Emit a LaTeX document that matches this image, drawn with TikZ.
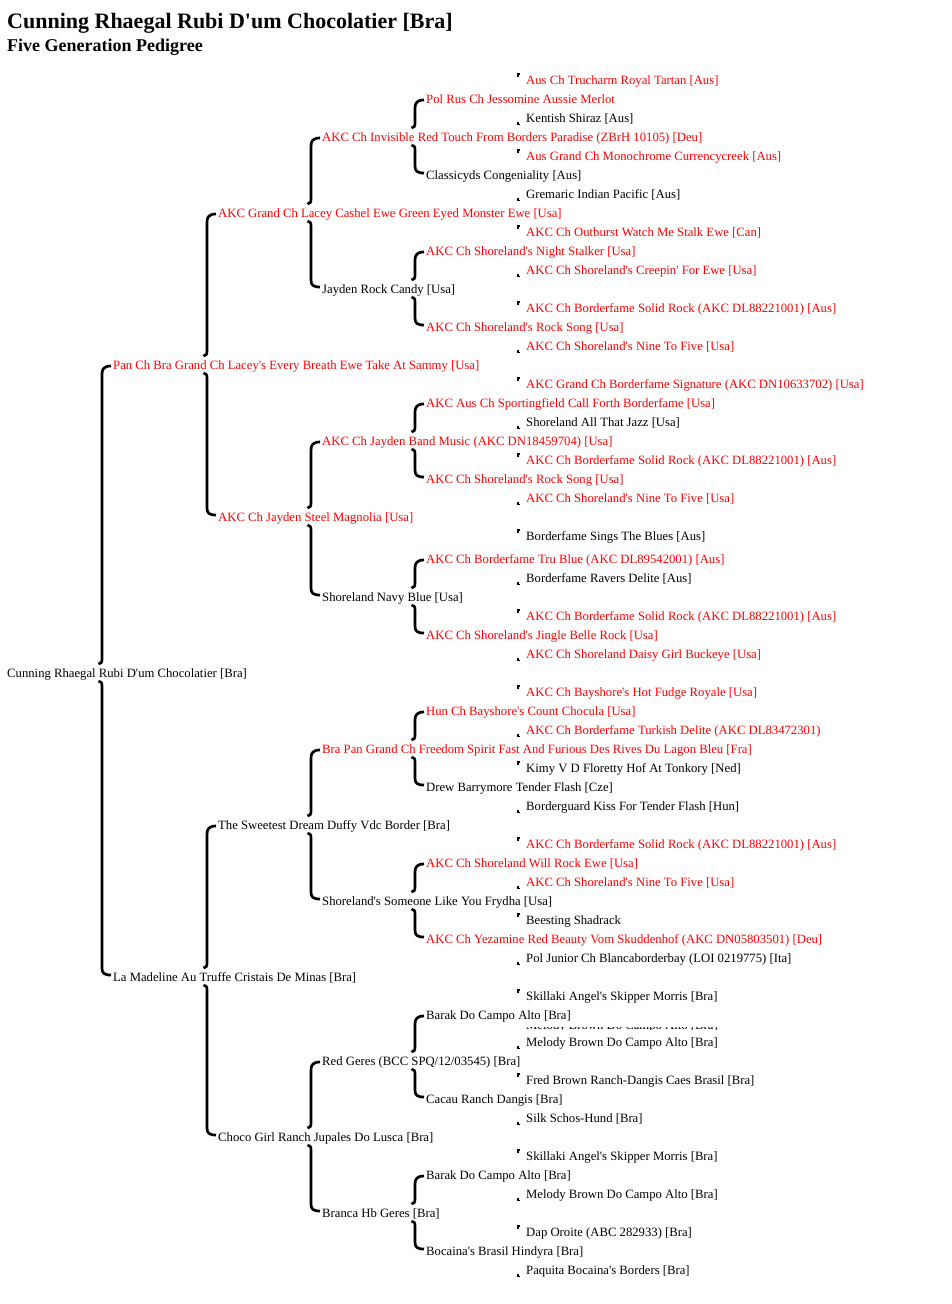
\documentclass[tikz,border=0pt]{standalone}
\usepackage{fontspec}
\setmainfont{Liberation Serif}
\usetikzlibrary{calc}
\newcommand\ap{\textquotesingle}
\tikzset{
  lbl/.style={anchor=base west,inner sep=0pt,font=\fontsize{12.7}{15}\selectfont},
  bracel/.style={draw=black,line width=2.7pt},
  tickl/.style={draw=black,line width=1.5pt},
}
\newcommand\nm[5]{\node[lbl,text=#4] (#1) at (#2pt,{-(#3+4.5)*1pt}) {#5};}
\newcommand\pbrace[3]{%
\draw[bracel] let \p1=(#2.base west), \p2=(#1.base west), \p3=(#3.base west) in
 (\x1-2pt,\y1+3.5pt) .. controls (\x1-9pt,\y1+3.5pt) and (\x1-11pt,\y1+0.5pt) .. (\x1-11pt,\y1-4.5pt)
 -- (\x1-11pt,\y2+18.5pt) .. controls (\x1-11pt,\y2+15pt) and (\x1-12pt,\y2+14pt) .. (\x1-14.5pt,\y2+13.5pt)
 (\x1-14.5pt,\y2-3.5pt) .. controls (\x1-12pt,\y2-4pt) and (\x1-11pt,\y2-5pt) .. (\x1-11pt,\y2-8.5pt)
 -- (\x1-11pt,\y3+13.5pt) .. controls (\x1-11pt,\y3+8.5pt) and (\x1-9pt,\y3+6.5pt) .. (\x1-2pt,\y3+6.5pt);}
\newcommand\ptick[3]{%
\draw[tickl] let \p1=(#2.base west), \p3=(#3.base west) in
 (\x1-6pt,\y1+10.5pt) -- (\x1-8pt,\y1+10.5pt) -- (\x1-8pt,\y1+8pt)
 (\x1-8pt,\y3+0.5pt) -- (\x1-8pt,\y3-2pt) -- (\x1-6pt,\y3-2pt);}
\begin{document}
\begin{tikzpicture}
\useasboundingbox (0,0) rectangle (952pt,-1304pt);
\node[anchor=base west,inner sep=0pt,font=\fontsize{22}{26}\selectfont\bfseries] (title) at (7pt,-28.5pt) {Cunning Rhaegal Rubi D\ap um Chocolatier [Bra]};
\node[anchor=base west,inner sep=0pt,font=\fontsize{18}{22}\selectfont\bfseries] (subtitle) at (7pt,-51pt) {Five Generation Pedigree};
% generation 1
\nm{a1}{7}{673}{black}{Cunning Rhaegal Rubi D\ap um Chocolatier [Bra]}
% generation 2
\nm{b1}{113}{365}{red}{Pan Ch Bra Grand Ch Lacey\ap s Every Breath Ewe Take At Sammy [Usa]}
\nm{b2}{113}{977}{black}{La Madeline Au Truffe Cristais De Minas [Bra]}
% generation 3
\nm{c1}{218}{213}{red}{AKC Grand Ch Lacey Cashel Ewe Green Eyed Monster Ewe [Usa]}
\nm{c2}{218}{517}{red}{AKC Ch Jayden Steel Magnolia [Usa]}
\nm{c3}{218}{825}{black}{The Sweetest Dream Duffy Vdc Border [Bra]}
\nm{c4}{218}{1137}{black}{Choco Girl Ranch Jupales Do Lusca [Bra]}
% generation 4
\nm{d1}{322}{137}{red}{AKC Ch Invisible Red Touch From Borders Paradise (ZBrH 10105) [Deu]}
\nm{d2}{322}{289}{black}{Jayden Rock Candy [Usa]}
\nm{d3}{322}{441}{red}{AKC Ch Jayden Band Music (AKC DN18459704) [Usa]}
\nm{d4}{322}{597}{black}{Shoreland Navy Blue [Usa]}
\nm{d5}{322}{749}{red}{Bra Pan Grand Ch Freedom Spirit Fast And Furious Des Rives Du Lagon Bleu [Fra]}
\nm{d6}{322}{901}{black}{Shoreland\ap s Someone Like You Frydha [Usa]}
\nm{d7}{322}{1061}{black}{Red Geres (BCC SPQ/12/03545) [Bra]}
\nm{d8}{322}{1213}{black}{Branca Hb Geres [Bra]}
% generation 5
\nm{e1}{426}{99}{red}{Pol Rus Ch Jessomine Aussie Merlot}
\nm{e2}{426}{175}{black}{Classicyds Congeniality [Aus]}
\nm{e3}{426}{251}{red}{AKC Ch Shoreland\ap s Night Stalker [Usa]}
\nm{e4}{426}{327}{red}{AKC Ch Shoreland\ap s Rock Song [Usa]}
\nm{e5}{426}{403}{red}{AKC Aus Ch Sportingfield Call Forth Borderfame [Usa]}
\nm{e6}{426}{479}{red}{AKC Ch Shoreland\ap s Rock Song [Usa]}
\nm{e7}{426}{559}{red}{AKC Ch Borderfame Tru Blue (AKC DL89542001) [Aus]}
\nm{e8}{426}{635}{red}{AKC Ch Shoreland\ap s Jingle Belle Rock [Usa]}
\nm{e9}{426}{711}{red}{Hun Ch Bayshore\ap s Count Chocula [Usa]}
\nm{e10}{426}{787}{black}{Drew Barrymore Tender Flash [Cze]}
\nm{e11}{426}{863}{red}{AKC Ch Shoreland Will Rock Ewe [Usa]}
\nm{e12}{426}{939}{red}{AKC Ch Yezamine Red Beauty Vom Skuddenhof (AKC DN05803501) [Deu]}
\nm{e13}{426}{1015}{black}{Barak Do Campo Alto [Bra]}
\nm{e14}{426}{1099}{black}{Cacau Ranch Dangis [Bra]}
\nm{e15}{426}{1175}{black}{Barak Do Campo Alto [Bra]}
\nm{e16}{426}{1251}{black}{Bocaina\ap s Brasil Hindyra [Bra]}
% generation 6
\nm{f1}{526}{80}{red}{Aus Ch Trucharm Royal Tartan [Aus]}
\nm{f2}{526}{118}{black}{Kentish Shiraz [Aus]}
\nm{f3}{526}{156}{red}{Aus Grand Ch Monochrome Currencycreek [Aus]}
\nm{f4}{526}{194}{black}{Gremaric Indian Pacific [Aus]}
\nm{f5}{526}{232}{red}{AKC Ch Outburst Watch Me Stalk Ewe [Can]}
\nm{f6}{526}{270}{red}{AKC Ch Shoreland\ap s Creepin\ap\ For Ewe [Usa]}
\nm{f7}{526}{308}{red}{AKC Ch Borderfame Solid Rock (AKC DL88221001) [Aus]}
\nm{f8}{526}{346}{red}{AKC Ch Shoreland\ap s Nine To Five [Usa]}
\nm{f9}{526}{384}{red}{AKC Grand Ch Borderfame Signature (AKC DN10633702) [Usa]}
\nm{f10}{526}{422}{black}{Shoreland All That Jazz [Usa]}
\nm{f11}{526}{460}{red}{AKC Ch Borderfame Solid Rock (AKC DL88221001) [Aus]}
\nm{f12}{526}{498}{red}{AKC Ch Shoreland\ap s Nine To Five [Usa]}
\nm{f13}{526}{536}{black}{Borderfame Sings The Blues [Aus]}
\nm{f14}{526}{578}{black}{Borderfame Ravers Delite [Aus]}
\nm{f15}{526}{616}{red}{AKC Ch Borderfame Solid Rock (AKC DL88221001) [Aus]}
\nm{f16}{526}{654}{red}{AKC Ch Shoreland Daisy Girl Buckeye [Usa]}
\nm{f17}{526}{692}{red}{AKC Ch Bayshore\ap s Hot Fudge Royale [Usa]}
\nm{f18}{526}{730}{red}{AKC Ch Borderfame Turkish Delite (AKC DL83472301)}
\nm{f19}{526}{768}{black}{Kimy V D Floretty Hof At Tonkory [Ned]}
\nm{f20}{526}{806}{black}{Borderguard Kiss For Tender Flash [Hun]}
\nm{f21}{526}{844}{red}{AKC Ch Borderfame Solid Rock (AKC DL88221001) [Aus]}
\nm{f22}{526}{882}{red}{AKC Ch Shoreland\ap s Nine To Five [Usa]}
\nm{f23}{526}{920}{black}{Beesting Shadrack}
\nm{f24}{526}{958}{black}{Pol Junior Ch Blancaborderbay (LOI 0219775) [Ita]}
\nm{f25}{526}{996}{black}{Skillaki Angel\ap s Skipper Morris [Bra]}
\nm{f26}{526}{1042}{black}{Melody Brown Do Campo Alto [Bra]}
\nm{f27}{526}{1080}{black}{Fred Brown Ranch-Dangis Caes Brasil [Bra]}
\nm{f28}{526}{1118}{black}{Silk Schos-Hund [Bra]}
\nm{f29}{526}{1156}{black}{Skillaki Angel\ap s Skipper Morris [Bra]}
\nm{f30}{526}{1194}{black}{Melody Brown Do Campo Alto [Bra]}
\nm{f31}{526}{1232}{black}{Dap Oroite (ABC 282933) [Bra]}
\nm{f32}{526}{1270}{black}{Paquita Bocaina\ap s Borders [Bra]}
% clipped fragment of a hidden line
\begin{scope}
\clip (520pt,-1027.6pt) rectangle (725pt,-1029.4pt);
\node[lbl] (frag) at (526pt,-1029pt) {Melody Brown Do Campo Alto [Bra]};
\end{scope}
% braces
\pbrace{a1}{b1}{b2}
\pbrace{b1}{c1}{c2}
\pbrace{b2}{c3}{c4}
\pbrace{c1}{d1}{d2}
\pbrace{c2}{d3}{d4}
\pbrace{c3}{d5}{d6}
\pbrace{c4}{d7}{d8}
\pbrace{d1}{e1}{e2}
\pbrace{d2}{e3}{e4}
\pbrace{d3}{e5}{e6}
\pbrace{d4}{e7}{e8}
\pbrace{d5}{e9}{e10}
\pbrace{d6}{e11}{e12}
\pbrace{d7}{e13}{e14}
\pbrace{d8}{e15}{e16}
\ptick{e1}{f1}{f2}
\ptick{e2}{f3}{f4}
\ptick{e3}{f5}{f6}
\ptick{e4}{f7}{f8}
\ptick{e5}{f9}{f10}
\ptick{e6}{f11}{f12}
\ptick{e7}{f13}{f14}
\ptick{e8}{f15}{f16}
\ptick{e9}{f17}{f18}
\ptick{e10}{f19}{f20}
\ptick{e11}{f21}{f22}
\ptick{e12}{f23}{f24}
\ptick{e13}{f25}{f26}
\ptick{e14}{f27}{f28}
\ptick{e15}{f29}{f30}
\ptick{e16}{f31}{f32}
\end{tikzpicture}
\end{document}
